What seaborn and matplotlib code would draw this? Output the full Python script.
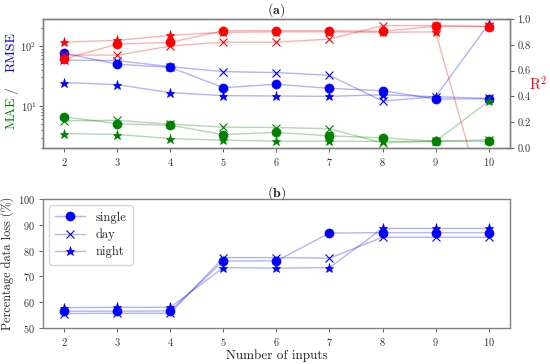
import numpy as np
import pandas as pd
import matplotlib
matplotlib.use("Agg")
import matplotlib.pyplot as plt
import seaborn as sns

inputs = [2, 3, 4, 5, 6, 7, 8, 9, 10]

rmse_single = [75.5, 49.5, 44.0, 20.2, 23.0, 19.7, 18.0, 13.1, 13.2]
rmse_day = [58.0, 57.0, 45.0, 37.3, 36.0, 32.4, 12.1, 14.3, 13.4]
rmse_night = [24.5, 22.7, 16.7, 14.9, 14.7, 14.5, 15.4, 14.3, 230.0]

mae_single = [6.6, 5.1, 4.8, 3.37, 3.64, 3.2, 2.97, 2.61, 2.6]
mae_day = [5.7, 5.8, 5.0, 4.47, 4.4, 4.2, 2.45, 2.6, 2.75]
mae_night = [3.5, 3.37, 2.89, 2.71, 2.61, 2.6, 2.6, 2.6, 12.0]

r2_single = [0.69, 0.805, 0.818, 0.909, 0.909, 0.909, 0.904, 0.943, 0.94]
r2_day = [0.72, 0.72, 0.79, 0.82, 0.82, 0.844, 0.948, 0.948, 0.943]
r2_night = [0.82, 0.834, 0.873, 0.896, 0.90, 0.90, 0.896, 0.90, -0.55]

loss_single = [56.5, 56.5, 56.6, 76.0, 76.0, 86.8, 87.0, 87.0, 87.0]
loss_day = [55.6, 55.7, 55.7, 77.3, 77.3, 77.1, 85.2, 85.2, 85.2]
loss_night = [57.9, 58.0, 58.0, 73.4, 73.2, 73.4, 88.6, 88.6, 88.6]

labels = ["single", "day", "night"]
markers = {"single": "o", "day": "x", "night": "*"}
msizes = {"single": 6.5, "day": 5.5, "night": 6.5}

sns.set_style("white")
plt.rcParams["font.family"] = ["serif"]
plt.rcParams["font.serif"] = ["cmr10", "DejaVu Serif"]
plt.rcParams["mathtext.fontset"] = "cm"
plt.rcParams["axes.formatter.use_mathtext"] = True
plt.rcParams["axes.unicode_minus"] = False

fig = plt.figure(figsize=(5.5, 3.64), dpi=100)
ax1 = fig.add_axes([0.078, 0.593, 0.849, 0.355])
ax3 = fig.add_axes([0.078, 0.099, 0.849, 0.354])
ax2 = ax1.twinx()


def draw(ax, y, name, color, label=None):
    df = pd.DataFrame({"x": inputs, "y": y})
    rgba = matplotlib.colors.to_rgba(color, 0.3)
    sns.lineplot(data=df, x="x", y="y", ax=ax, color=rgba, lw=1,
                 marker=markers[name], markersize=msizes[name],
                 markerfacecolor=color, markeredgecolor=color,
                 markeredgewidth=0.8 if name == "day" else 0.5,
                 label=label, legend=False if label is None else "auto")


for name, r, m, q in zip(labels, [rmse_single, rmse_day, rmse_night],
                         [mae_single, mae_day, mae_night],
                         [r2_single, r2_day, r2_night]):
    draw(ax1, r, name, "blue")
    draw(ax1, m, name, "green")
    draw(ax2, q, name, "red")

for name, l in zip(labels, [loss_single, loss_day, loss_night]):
    draw(ax3, l, name, "blue", label=name)

ax1.set_yscale("log")
ax1.set_ylim(2.0, 280)
ax2.set_ylim(0, 1.0)
for ax in (ax1, ax2, ax3):
    ax.set_xlim(1.6, 10.4)
    ax.set_xticks(inputs)
    ax.set_xlabel("")
    ax.set_ylabel("")
ax2.set_yticks([0.0, 0.2, 0.4, 0.6, 0.8, 1.0])
ax2.set_yticklabels(["0.0", "0.2", "0.4", "0.6", "0.8", "1.0"])
ax3.set_ylim(50, 100)
ax3.set_yticks([50, 60, 70, 80, 90, 100])

for ax in (ax1, ax2, ax3):
    for s in ax.spines.values():
        s.set_color("#808080")
        s.set_linewidth(1.0)
    ax.tick_params(axis="both", which="both", labelsize=7.5, color="#606060",
                   labelcolor="#333333", direction="out", length=3, width=0.7, pad=2.5)
ax1.tick_params(axis="y", which="both", left=True, pad=1.5)
ax1.tick_params(axis="y", which="minor", length=1.8)
ax2.tick_params(axis="y", right=True)
ax3.tick_params(axis="both", left=True, bottom=True)
ax1.tick_params(axis="x", bottom=True)

ax1.set_title(r"$(\mathbf{a})$", fontsize=10, pad=2)
ax3.set_title(r"$(\mathbf{b})$", fontsize=10, pad=2)

ax2.set_ylabel(r"R$^2$", color="red", rotation=0, fontsize=10.5, labelpad=5, va="center")
ax3.set_ylabel("Percentage data loss (%)", fontsize=8.8, color="#222222", labelpad=3)
ax3.set_xlabel("Number of inputs", fontsize=9.5, color="#222222", labelpad=1.5)

fig.text(0.021, 0.645, "MAE", color="green", rotation=90, fontsize=10, ha="center", va="bottom")
fig.text(0.021, 0.742, "/", color="#333333", rotation=90, fontsize=10, ha="center", va="bottom")
fig.text(0.021, 0.803, "RMSE", color="blue", rotation=90, fontsize=10, ha="center", va="bottom")

leg = ax3.legend(loc="upper left", fontsize=9, frameon=True, handlelength=2.4,
                 borderpad=0.5, labelspacing=0.4, fancybox=True, markerscale=1.0,
                 handletextpad=0.8, borderaxespad=0.5)
leg.get_frame().set_edgecolor("#cccccc")

fig.savefig("out.png", dpi=100)
